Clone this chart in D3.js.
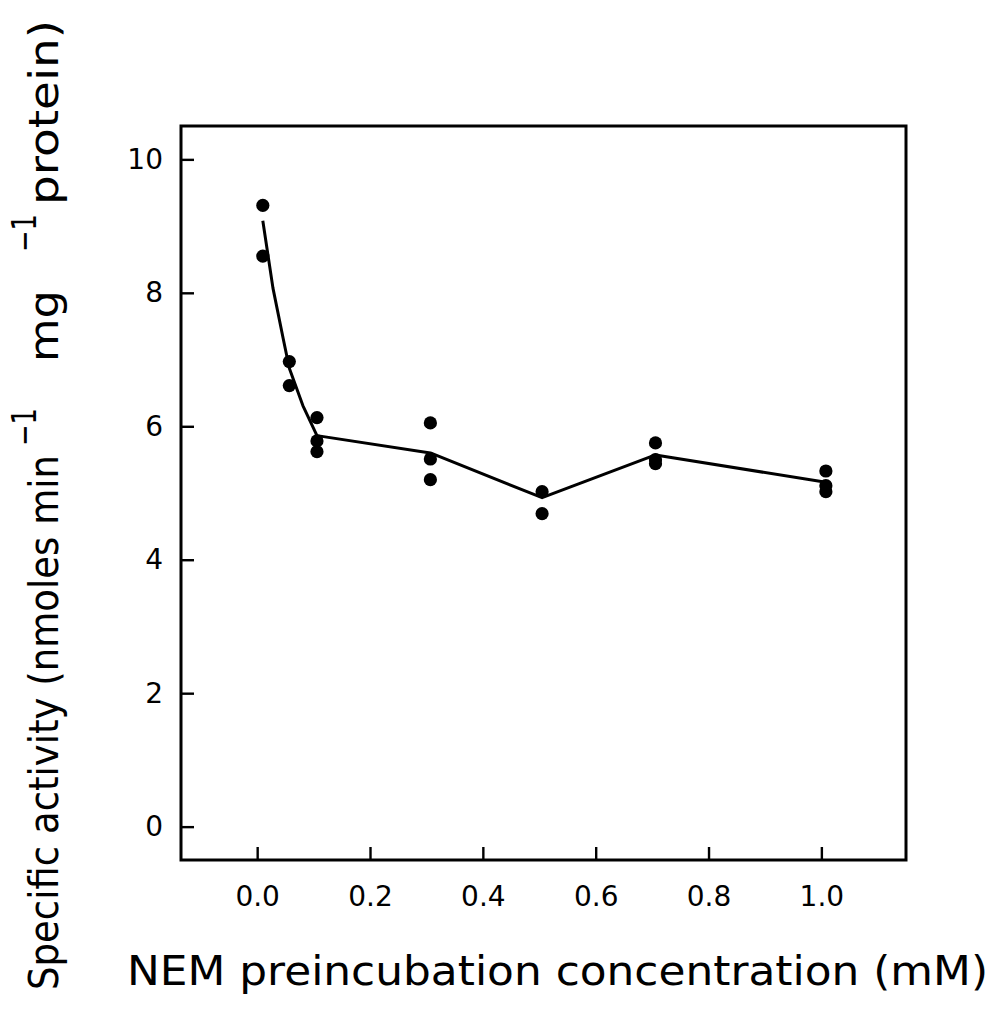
<!DOCTYPE html>
<html>
<head>
<meta charset="utf-8">
<script src="https://cdn.jsdelivr.net/npm/d3@7"></script>
<style>
  html, body { margin: 0; padding: 0; background: #fff; }
  svg { display: block; }
  text { font-family: "DejaVu Sans", sans-serif; fill: #000; }
</style>
</head>
<body>
<script>
// ---- data ----
const pointX = [0.01, 0.01, 0.057, 0.057, 0.106, 0.106, 0.106,
                0.307, 0.307, 0.307, 0.505, 0.505,
                0.706, 0.706, 0.706, 1.008, 1.008, 1.008];
const pointY = [9.31, 8.55, 6.97, 6.61, 6.13, 5.78, 5.62,
                6.05, 5.51, 5.20, 5.02, 4.69,
                5.75, 5.50, 5.44, 5.33, 5.11, 5.02];
const lineX = [0.01, 0.028, 0.046, 0.057, 0.081, 0.106, 0.307, 0.505, 0.706, 1.008];
const lineY = [9.08, 8.07, 7.32, 6.87, 6.31, 5.86, 5.60, 4.93, 5.57, 5.16];
const xTicks = [0.0, 0.2, 0.4, 0.6, 0.8, 1.0];
const yTicks = [0, 2, 4, 6, 8, 10];
const xTitle = "NEM preincubation concentration (mM)";
const yTitleParts = ["Specific activity (nmoles min", "−1", "mg", "−1", "protein)"];

const W = 994, H = 1011;
const svg = d3.select("body").append("svg").attr("width", W).attr("height", H);

const x = d3.scaleLinear().domain([-0.135, 1.15]).range([181, 906]);
const y = d3.scaleLinear().domain([-0.5, 10.5]).range([860, 126]);

// frame
svg.append("rect")
  .attr("x", x.range()[0]).attr("y", y.range()[1])
  .attr("width", x.range()[1] - x.range()[0])
  .attr("height", y.range()[0] - y.range()[1])
  .attr("fill", "none").attr("stroke", "#000").attr("stroke-width", 3);

// x axis (ticks inward)
const xAxis = d3.axisBottom(x).tickValues(xTicks).tickFormat(d3.format(".1f"))
  .tickSizeInner(-13).tickSizeOuter(0).tickPadding(26);
const gx = svg.append("g").attr("transform", `translate(0,${y.range()[0]})`).call(xAxis);
gx.select(".domain").remove();
gx.selectAll(".tick line").attr("stroke", "#000").attr("stroke-width", 2.4);
gx.selectAll(".tick text").attr("font-size", 28).attr("font-family", "DejaVu Sans").attr("dy", "0.71em");

// y axis (ticks inward)
const yAxis = d3.axisLeft(y).tickValues(yTicks).tickFormat(d3.format("d"))
  .tickSizeInner(-13).tickSizeOuter(0).tickPadding(18);
const gy = svg.append("g").attr("transform", `translate(${x.range()[0]},0)`).call(yAxis);
gy.select(".domain").remove();
gy.selectAll(".tick line").attr("stroke", "#000").attr("stroke-width", 2.4);
gy.selectAll(".tick text").attr("font-size", 28).attr("font-family", "DejaVu Sans");

// line
const lineData = lineX.map((d, i) => [d, lineY[i]]);
svg.append("path")
  .datum(lineData)
  .attr("fill", "none").attr("stroke", "#000").attr("stroke-width", 3)
  .attr("stroke-linejoin", "round")
  .attr("d", d3.line().x(d => x(d[0])).y(d => y(d[1])));

// points
svg.append("g").selectAll("circle")
  .data(pointX.map((d, i) => [d, pointY[i]]))
  .join("circle")
  .attr("cx", d => x(d[0])).attr("cy", d => y(d[1]))
  .attr("r", 6.6).attr("fill", "#000");

// x title
svg.append("text")
  .attr("x", 127).attr("y", 985)
  .attr("font-size", 41)
  .attr("textLength", 861).attr("lengthAdjust", "spacingAndGlyphs")
  .text(xTitle);

// y title pieces (rotated), each placed along the left margin
const yParts = [
  { start: 990, len: 535, base: 58, size: 40 },
  { start: 446, len: 38,  base: 36, size: 34 },
  { start: 362, len: 72,  base: 58, size: 40 },
  { start: 252, len: 38,  base: 36, size: 34 },
  { start: 205, len: 185, base: 58, size: 40 }
];
const gyt = svg.append("g");
yParts.forEach((p, i) => {
  gyt.append("text")
    .attr("transform", `translate(${p.base},${p.start}) rotate(-90)`)
    .attr("font-size", p.size)
    .attr("textLength", p.len).attr("lengthAdjust", "spacingAndGlyphs")
    .text(yTitleParts[i]);
});
</script>
</body>
</html>
